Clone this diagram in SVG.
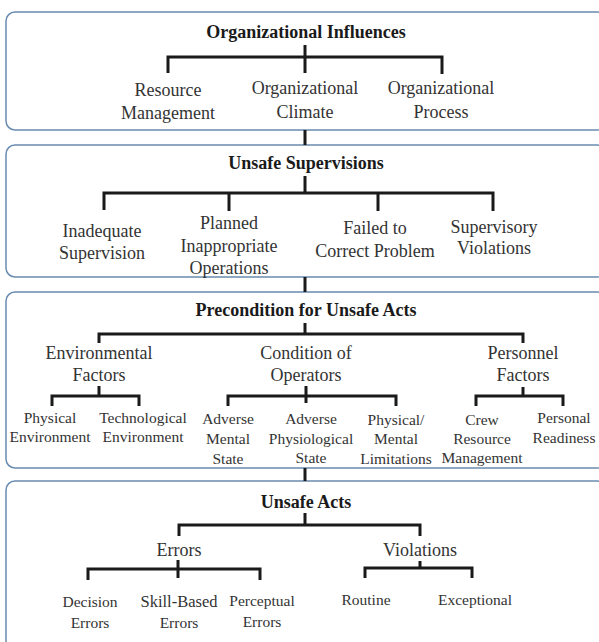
<svg xmlns="http://www.w3.org/2000/svg" width="599" height="642" viewBox="0 0 599 642">
<style>
.panel{fill:#fff;stroke:#6a8bb0;stroke-width:1.5}
.t{font-family:"Liberation Serif","Times New Roman",serif;font-size:18px;font-weight:bold;fill:#1a1a1a;text-anchor:middle}
.l{font-family:"Liberation Serif","Times New Roman",serif;font-size:18px;fill:#333;text-anchor:middle}
.s{font-family:"Liberation Serif","Times New Roman",serif;font-size:15.5px;fill:#333;text-anchor:middle}
.c{fill:none;stroke:#1a1a1a;stroke-width:3}
</style>
<rect width="599" height="642" fill="#fff"/>
<g id="panel-organizational">
<rect class="panel" x="6" y="12" width="600" height="118" rx="9"/>
<text class="t" x="306" y="38">Organizational Influences</text>
</g>
<g id="panel-supervision">
<rect class="panel" x="6" y="145" width="600" height="132" rx="9"/>
<text class="t" x="306" y="169">Unsafe Supervisions</text>
</g>
<g id="panel-precondition">
<rect class="panel" x="6" y="292" width="600" height="176" rx="9"/>
<text class="t" x="306" y="316">Precondition for Unsafe Acts</text>
</g>
<g id="panel-acts">
<rect class="panel" x="6" y="481" width="600" height="180" rx="9"/>
<text class="t" x="306" y="508">Unsafe Acts</text>
</g>
<g id="n-resource"><text class="l" x="168" y="96">Resource</text><text class="l" x="168" y="119">Management</text></g>
<g id="n-climate"><text class="l" x="305" y="94">Organizational</text><text class="l" x="305" y="118">Climate</text></g>
<g id="n-process"><text class="l" x="441" y="94">Organizational</text><text class="l" x="441" y="118">Process</text></g>
<g id="n-inadequate"><text class="l" x="102" y="237">Inadequate</text><text class="l" x="102" y="259">Supervision</text></g>
<g id="n-planned"><text class="l" x="229" y="229">Planned</text><text class="l" x="229" y="252">Inappropriate</text><text class="l" x="229" y="274">Operations</text></g>
<g id="n-failed"><text class="l" x="375" y="234">Failed to</text><text class="l" x="375" y="257">Correct Problem</text></g>
<g id="n-supviol"><text class="l" x="494" y="233">Supervisory</text><text class="l" x="494" y="254">Violations</text></g>
<g id="n-env"><text class="l" x="99" y="359">Environmental</text><text class="l" x="99" y="381">Factors</text></g>
<g id="n-cond"><text class="l" x="306" y="359">Condition of</text><text class="l" x="306" y="381">Operators</text></g>
<g id="n-pers"><text class="l" x="523" y="359">Personnel</text><text class="l" x="523" y="381">Factors</text></g>
<g id="n-physenv"><text class="s" x="50" y="423">Physical</text><text class="s" x="50" y="442">Environment</text></g>
<g id="n-techenv"><text class="s" x="143" y="423">Technological</text><text class="s" x="143" y="442">Environment</text></g>
<g id="n-mental"><text class="s" x="228" y="424">Adverse</text><text class="s" x="228" y="444">Mental</text><text class="s" x="228" y="464">State</text></g>
<g id="n-physio"><text class="s" x="311" y="424">Adverse</text><text class="s" x="311" y="444">Physiological</text><text class="s" x="311" y="463">State</text></g>
<g id="n-limits"><text class="s" x="396" y="425">Physical/</text><text class="s" x="396" y="444">Mental</text><text class="s" x="396" y="464">Limitations</text></g>
<g id="n-crew"><text class="s" x="482" y="425">Crew</text><text class="s" x="482" y="444">Resource</text><text class="s" x="482" y="463">Management</text></g>
<g id="n-readiness"><text class="s" x="564" y="423">Personal</text><text class="s" x="564" y="443">Readiness</text></g>
<g id="n-errors"><text class="l" x="179" y="556">Errors</text></g>
<g id="n-violations"><text class="l" x="420" y="556">Violations</text></g>
<g id="n-decision"><text class="s" x="90" y="607">Decision</text><text class="s" x="90" y="628">Errors</text></g>
<g id="n-skill"><text class="s" x="179" y="607" style="font-size:16.5px">Skill-Based</text><text class="s" x="179" y="628">Errors</text></g>
<g id="n-perceptual"><text class="s" x="262" y="606">Perceptual</text><text class="s" x="262" y="627">Errors</text></g>
<g id="n-routine"><text class="s" x="366" y="605">Routine</text></g>
<g id="n-exceptional"><text class="s" x="475" y="605">Exceptional</text></g>
<g id="connectors" class="c">
<path d="M305 45V73M168 73V57H442V74"/>
<path d="M305 130V145M305 277V292M305 468V481"/>
<path d="M305 176V193M104 210V193H493V211M229 193V211M378 193V211"/>
<path d="M305 323V334M99 343V334H523V343"/>
<path d="M99 386V396M52 406V396H139V406"/>
<path d="M306 386V403M228 406V396H396V406"/>
<path d="M523 387V396M476 406V396H563V406"/>
<path d="M305 513V525M179 536V525H420V536"/>
<path d="M178 560V578M88 580V569H260V580"/>
<path d="M420 561V568M365 578V568H472V578"/>
</g>
</svg>
